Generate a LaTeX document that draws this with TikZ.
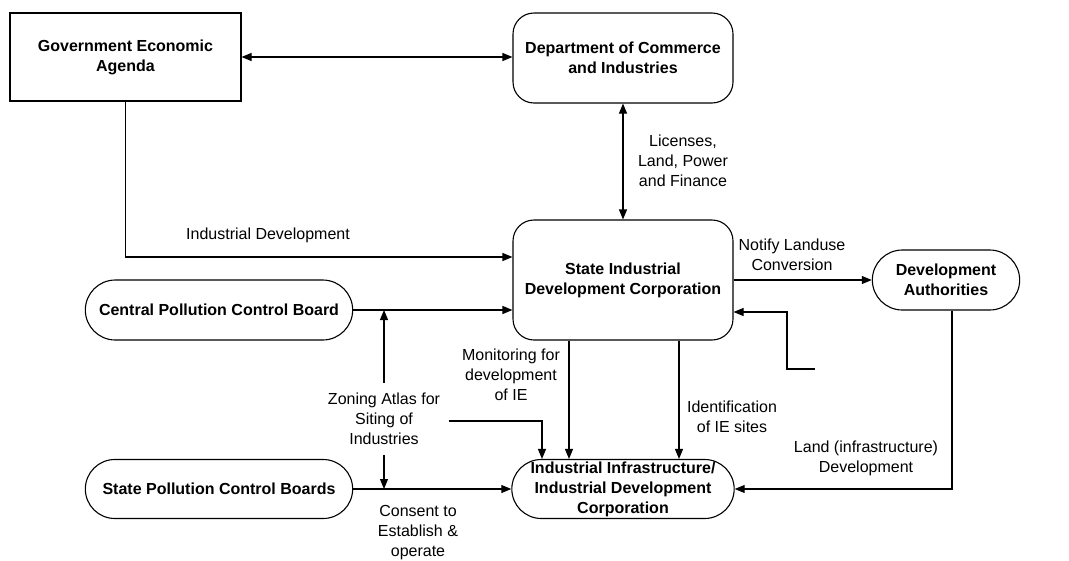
\documentclass[tikz,border=0pt]{standalone}
\usepackage{fontspec}
\setmainfont{Liberation Sans}
\usetikzlibrary{calc}
\usetikzlibrary{arrows.meta}
\usetikzlibrary{shapes.misc}
\tikzset{
	every path/.style={line width=1.1pt},
	align=center,
	body/.style={
		draw,
		rectangle,
		font=\bfseries\fontsize{16}{20}\selectfont,
	},
	office/.style={
		draw,
		rectangle,
		rounded corners=21pt,
		font=\bfseries\fontsize{16}{20}\selectfont,
	},
	board/.style={
		draw,
		rounded rectangle,
		font=\bfseries\fontsize{16}{20}\selectfont,
	},
	note/.style={
		font=\fontsize{16}{20}\selectfont,
	},
	flow/.style={
		-{Triangle[length=10pt,width=8pt]}
	},
	exchange/.style={
		{Triangle[length=10pt,width=8pt]}-{Triangle[length=10pt,width=8pt]}
	},
}

\begin{document}
\begin{tikzpicture}[x=1pt,y=-1pt]
		\useasboundingbox (0,0) rectangle (1069,560);

		\node[body, minimum width=231pt, minimum height=88pt]	(agenda) at (125.5,57) {Government Economic\\Agenda};
		\node[office, minimum width=220pt, minimum height=90pt]	(commerce) at (623,58) {Department of Commerce\\and Industries};
		\node[office, minimum width=220pt, minimum height=120pt]	(sidc) at (623,280) {State Industrial\\Development Corporation};
		\node[board, minimum width=274pt, minimum height=60pt]	(cpcb) at (219,310) {Central Pollution Control Board};
		\node[board, minimum width=274pt, minimum height=59pt]	(spcb) at (219,489) {State Pollution Control Boards};
		\node[board, minimum width=220pt, minimum height=59pt, inner sep=0pt]	(infra) at (623,489) {Industrial Infrastructure/\\Industrial Development\\Corporation};
		\node[board, minimum width=154pt, minimum height=60pt]	(devauth) at (946,280) {Development\\Authorities};

		\draw[exchange]		(agenda.east) -- (agenda.east -| commerce.west);
		\draw[exchange]		(commerce) -- (sidc);
		\node[note]			(licenses) at (683,161) {Licenses,\\Land, Power\\and Finance};

		\draw[flow]			(agenda.south) |- ([yshift=23pt]sidc.west);
		\node[note]			(inddev) at (268,235) {Industrial Development};

%*********

		\draw[flow]			(cpcb.east) -- (cpcb.east -| sidc.west);
		\node[note, inner xsep=8pt, inner ysep=10pt]	(zoning) at (384,419) {Zoning Atlas for\\Siting of\\Industries};
		\draw[flow]			(zoning.north) -- (zoning |- cpcb.east);
		\draw[flow]			(zoning.south) -- (zoning |- spcb.east);
		\draw[flow]			([yshift=-2pt]zoning.east) -| ([xshift=-81pt]infra.north);

		\draw[flow]			(spcb.east) -- (infra.west);
		\node[note]			(consent) at (418,533) {Consent to\\Establish \&\\operate};

%*********

		\draw[flow]			([xshift=-54pt]sidc.south) -- ([xshift=-54pt]infra.north);
		\node[note]			(monitor) at (511,375) {Monitoring for\\development\\of IE};
		\draw[flow]			([xshift=56pt]sidc.south) -- ([xshift=56pt]infra.north);
		\node[note]			(sites) at (732,417) {Identification\\of IE sites};

		\draw[flow]			(sidc.east) -- (devauth.west);
		\node[note]			(notify) at (792,255) {Notify Landuse\\Conversion};

		\coordinate			(loose) at (815,369);
		\coordinate			(bend) at (787,312);
		\draw[flow]			(loose) -| (bend) -- (bend -| sidc.east);

		\draw[flow]			([xshift=6pt]devauth.south) |- (infra.east);
		\node[note]			(landdev) at (866,458) {Land (infrastructure)\\Development};
	\end{tikzpicture}
\end{document}
